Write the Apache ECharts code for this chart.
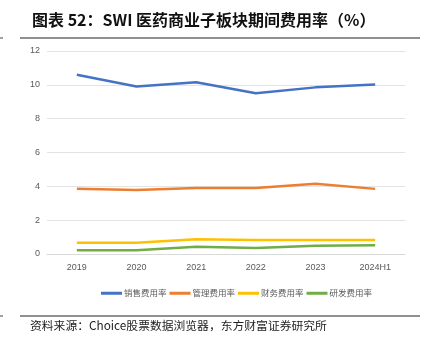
<!DOCTYPE html>
<html><head><meta charset="utf-8">
<script src="https://cdn.jsdelivr.net/npm/echarts@6/dist/echarts.min.js"></script>
<style>html,body{margin:0;padding:0;background:#fff}#c{width:432px;height:351px}</style>
</head><body><div id="c"></div>
<script>
const categories = ['2019','2020','2021','2022','2023','2024H1'];
const seriesNames = ['销售费用率','管理费用率','财务费用率','研发费用率'];
const sales = [10.6, 9.9, 10.15, 9.5, 9.85, 10.02];
const admin = [3.85, 3.78, 3.9, 3.9, 4.15, 3.85];
const finance = [0.67, 0.67, 0.87, 0.83, 0.83, 0.83];
const rnd = [0.22, 0.22, 0.43, 0.35, 0.49, 0.51];
const yTicks = [0, 2, 4, 6, 8, 10, 12];
const colors = ['#4472C4','#ED7D31','#FFC000','#70AD47'];
const title = '图表 52：SWI 医药商业子板块期间费用率（%）';
const source = '资料来源：Choice股票数据浏览器，东方财富证券研究所';

const chart = echarts.init(document.getElementById('c'));
const data = [sales, admin, finance, rnd];
chart.setOption({
  animation: false,
  color: colors,
  grid: {left: 47, right: 27, top: 51, bottom: 97, containLabel: false},
  xAxis: {
    type: 'category', data: categories, boundaryGap: true,
    axisLine: {lineStyle: {color: '#D9D9D9', width: 1}},
    axisTick: {show: false},
    axisLabel: {color: '#595959', fontSize: 9, fontFamily: 'Liberation Sans Narrow, Liberation Sans, sans-serif', margin: 9}
  },
  yAxis: {
    type: 'value', min: yTicks[0], max: yTicks[yTicks.length-1], interval: 2,
    axisLine: {show: false}, axisTick: {show: false},
    splitLine: {lineStyle: {color: '#E3E3E3', width: 1}},
    axisLabel: {color: '#595959', fontSize: 9, fontFamily: 'Liberation Sans Narrow, Liberation Sans, sans-serif', margin: 7}
  },
  legend: {
    top: 284, left: 96, itemWidth: 21, itemHeight: 3, itemGap: 3,
    icon: 'rect',
    textStyle: {color: '#595959', fontSize: 8.5, fontFamily: 'Noto Sans CJK SC', padding: [0,0,0,-3]},
    data: seriesNames
  },
  series: seriesNames.map((n, i) => ({
    name: n, type: 'line', data: data[i], symbol: 'none',
    lineStyle: {width: 2.5, color: colors[i]}
  })),
  graphic: [
    {type: 'text', left: 32, top: 12, style: {text: title, fontSize: 16, fontWeight: 'bold', fill: '#111', fontFamily: 'Noto Sans CJK SC'}},
    {type: 'line', shape: {x1: 20, y1: 38, x2: 420, y2: 38}, style: {stroke: '#222', lineWidth: 1}},
    {type: 'line', shape: {x1: 0, y1: 38, x2: 3, y2: 38}, style: {stroke: '#444', lineWidth: 1}},
    {type: 'line', shape: {x1: 20, y1: 316, x2: 420, y2: 316}, style: {stroke: '#222', lineWidth: 1}},
    {type: 'line', shape: {x1: 0, y1: 316, x2: 3, y2: 316}, style: {stroke: '#444', lineWidth: 1}},
    {type: 'text', left: 30, top: 320, style: {text: source, fontSize: 11.8, fill: '#222', fontFamily: 'Noto Sans CJK SC'}}
  ]
});
</script></body></html>
